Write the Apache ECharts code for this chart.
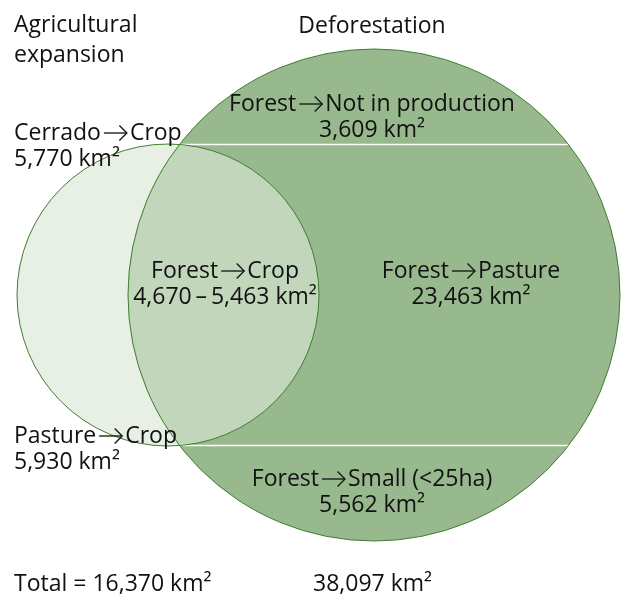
<!DOCTYPE html>
<html>
<head>
<meta charset="utf-8">
<script src="https://cdn.jsdelivr.net/npm/echarts@6/dist/echarts.min.js"></script>
<style>
  html, body, #main { width: 100%; height: 100%; margin: 0; background: #fff; }
</style>
</head>
<body>
<div id="main"></div>
<script>
var chart = echarts.init(document.getElementById('main'));

// the two sets and their totals (km²)
const setTitles = ['Agricultural', 'expansion', 'Deforestation'];
const setTotals = [16370, 38097];

// agricultural expansion outside the forest
const agriNames = ['Cerrado\u2192Crop', 'Pasture\u2192Crop'];
const agriValues = [5770, 5930];

// overlap: forest turned straight into crop (low / high estimate)
const overlapName = 'Forest\u2192Crop';
const overlapRange = [4670, 5463];

// deforestation bands, top to bottom
const deforNames = ['Forest\u2192Not in production', 'Forest\u2192Pasture', 'Forest\u2192Small (<25ha)'];
const deforValues = [3609, 23463, 5562];

function fmt(v) {
  return String(v).replace(/\B(?=(\d{3})+(?!\d))/g, ',');
}
function km(v) { return fmt(v) + ' km\u00b2'; }

// layout (plot units = pixels)
var W = 621, H = 597;
var bigC = [374, 295], bigR = 246;
var smallC = [168, 295], smallR = 151;
var FONT = '23px "Open Sans", "DejaVu Sans", sans-serif';
var ink = '#111111';
var edge = '#3f7f31';
var AW = 23, GAP = 3; // arrow width and the space around it

var measureCtx = document.createElement('canvas').getContext('2d');
function textWidth(s) {
  measureCtx.font = FONT;
  return measureCtx.measureText(s).width;
}

function plain(s, x, y, align) {
  return {
    type: 'text', x: x, y: y,
    style: { text: s, fill: ink, font: FONT, align: align, verticalAlign: 'middle' }
  };
}

function arrowShape(x0, y) {
  var x1 = x0 + AW;
  return {
    type: 'polyline',
    shape: { points: [[x0, y], [x1, y]] },
    style: { stroke: ink, lineWidth: 1.3, fill: null }
  };
}
function arrowHead(x0, y) {
  var x1 = x0 + AW;
  return {
    type: 'polyline',
    shape: { points: [[x1 - 7.5, y - 7.5], [x1, y], [x1 - 7.5, y + 7.5]] },
    style: { stroke: ink, lineWidth: 1.3, fill: null }
  };
}

// one line of text, with the arrow drawn as a shape
function line(out, s, x, y, align) {
  var parts = s.split('\u2192');
  if (parts.length < 2) { out.push(plain(s, x, y, align)); return; }
  var wl = textWidth(parts[0]), wr = textWidth(parts[1]);
  var total = wl + GAP + AW + GAP + wr;
  var x0 = align === 'center' ? x - total / 2 : x;
  out.push(plain(parts[0], x0, y, 'left'));
  var ax = x0 + wl + GAP;
  out.push(arrowShape(ax, y));
  out.push(arrowHead(ax, y));
  out.push(plain(parts[1], ax + AW + GAP, y, 'left'));
}

// a block of lines centred on yc
function block(out, api, lines, x, yc, align, lh) {
  lh = lh || 26;
  for (var i = 0; i < lines.length; i++) {
    var p = api.coord([x, yc + (i - (lines.length - 1) / 2) * lh]);
    line(out, lines[i], p[0], p[1], align);
  }
}

function renderVenn(params, api) {
  var cb = api.coord(bigC), cs = api.coord(smallC);
  var rb = api.size([bigR, 0])[0], rs = api.size([smallR, 0])[0];

  // where the circles cross
  var d = cb[0] - cs[0];
  var a = (d * d + rs * rs - rb * rb) / (2 * d);
  var h = Math.sqrt(rs * rs - a * a);
  var ix = cs[0] + a, yTop = cs[1] - h, yBot = cs[1] + h;

  var lens = 'M' + ix + ' ' + yTop +
    ' A' + rs + ' ' + rs + ' 0 0 1 ' + ix + ' ' + yBot +
    ' A' + rb + ' ' + rb + ' 0 0 1 ' + ix + ' ' + yTop + ' Z';

  function chord(y) {
    var dx = Math.sqrt(rb * rb - (y - cb[1]) * (y - cb[1]));
    return {
      type: 'line',
      shape: { x1: cb[0] - dx, y1: y, x2: cb[0] + dx, y2: y },
      style: { stroke: '#ffffff', lineWidth: 1.5 }
    };
  }

  var kids = [
    { type: 'circle', shape: { cx: cs[0], cy: cs[1], r: rs }, style: { fill: '#e8efe4' } },
    { type: 'circle', shape: { cx: cb[0], cy: cb[1], r: rb }, style: { fill: '#98b98e' } },
    { type: 'path', shape: { pathData: lens }, style: { fill: '#c1d6bb' } },
    chord(yTop),
    chord(yBot),
    { type: 'circle', shape: { cx: cs[0], cy: cs[1], r: rs }, style: { fill: null, stroke: edge, lineWidth: 1 } },
    { type: 'circle', shape: { cx: cb[0], cy: cb[1], r: rb }, style: { fill: null, stroke: edge, lineWidth: 1 } }
  ];

  block(kids, api, [setTitles[0], setTitles[1]], 14, 40, 'left', 30);
  block(kids, api, [setTitles[2]], 372, 26, 'center');

  block(kids, api, [deforNames[0], km(deforValues[0])], 372, 117, 'center');
  block(kids, api, [deforNames[1], km(deforValues[1])], 471, 284, 'center');
  block(kids, api, [deforNames[2], km(deforValues[2])], 372, 492, 'center');

  block(kids, api, [agriNames[0], km(agriValues[0])], 14, 146, 'left');
  block(kids, api, [agriNames[1], km(agriValues[1])], 14, 449, 'left');

  block(kids, api, [overlapName, fmt(overlapRange[0]) + '\u2009\u2013\u2009' + km(overlapRange[1])], 225, 284, 'center');

  block(kids, api, ['Total = ' + km(setTotals[0])], 14, 584, 'left');
  block(kids, api, [km(setTotals[1])], 313, 584, 'left');

  return { type: 'group', children: kids };
}

var option = {
  backgroundColor: '#ffffff',
  animation: false,
  grid: { left: 0, right: 0, top: 0, bottom: 0 },
  xAxis: { type: 'value', min: 0, max: W, show: false },
  yAxis: { type: 'value', min: 0, max: H, inverse: true, show: false },
  series: [{
    type: 'custom',
    coordinateSystem: 'cartesian2d',
    renderItem: renderVenn,
    data: [[0, 0]],
    silent: true
  }]
};

chart.setOption(option);
window.onresize = function () { chart.resize(); };
</script>
</body>
</html>
